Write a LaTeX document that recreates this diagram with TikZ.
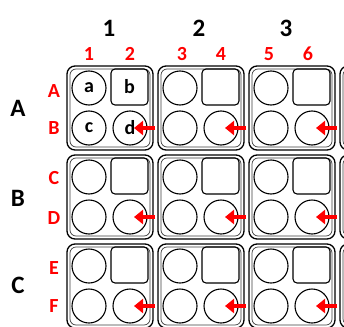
\documentclass[tikz,border=0pt]{standalone}
\usepackage{fontspec}
\setmainfont{Carlito}
\usetikzlibrary{arrows.meta}
\definecolor{labred}{RGB}{255,0,0}
\begin{document}
\begin{tikzpicture}[x=1pt,y=-1pt,
  blk/.style={draw, line width=1.3pt, rounded corners=8pt},
  blkin/.style={draw=black!75, line width=0.7pt, rounded corners=6pt},
  well/.style={draw, circle, line width=1.1pt, minimum size=34pt, inner sep=0pt, font=\bfseries\fontsize{20}{20}\selectfont},
  sqwell/.style={draw, line width=1.1pt, rounded corners=4pt, minimum width=37pt, minimum height=36pt, inner sep=0pt, font=\bfseries\fontsize{20}{20}\selectfont},
  biglab/.style={font=\bfseries\fontsize{25}{25}\selectfont, inner sep=0pt},
  redlab/.style={text=labred, font=\bfseries\fontsize{20}{20}\selectfont, inner sep=0pt},
  ptr/.style={draw=labred, line width=4pt, -{Triangle[length=9pt,width=14pt]}}
]
\useasboundingbox (0,0) rectangle (344,326);
\clip (0,0) rectangle (344,326);
\fill[white] (0,0) rectangle (344,326);
% plates
\foreach \c in {0,1,2,3}{
  \foreach \r in {0,1,2}{
    \pgfmathsetmacro{\bx}{67+91*\c}
    \pgfmathsetmacro{\by}{66+89*\r}
    \draw[blk] (\bx,\by) rectangle ++(86,84);
    \draw[blkin] (\bx+3,\by+3) rectangle ++(80,78);
    \node[well] (tl-\r-\c) at (\bx+22,\by+22) {};
    \node[sqwell] (tr-\r-\c) at (\bx+62.5,\by+21) {};
    \node[well] (bl-\r-\c) at (\bx+22,\by+62) {};
    \node[well] (br-\r-\c) at (\bx+63,\by+62) {};
  }
}
% well letters
\node[font=\bfseries\fontsize{20}{20}\selectfont] (ta) at (tl-0-0) {a};
\node[font=\bfseries\fontsize{20}{20}\selectfont] (tb) at (tr-0-0) {b};
\node[font=\bfseries\fontsize{20}{20}\selectfont] (tc) at (bl-0-0) {c};
\node[font=\bfseries\fontsize{20}{20}\selectfont] (td) at (br-0-0) {d};
% arrows
\foreach \c in {0,1,2}{
  \foreach \r in {0,1,2}{
    \pgfmathsetmacro{\bx}{67+91*\c}
    \pgfmathsetmacro{\by}{66+89*\r}
    \coordinate (tail-\r-\c) at (\bx+88,\by+62);
    \coordinate (tip-\r-\c) at (\bx+67,\by+62);
    \draw[ptr] (tail-\r-\c) -- (tip-\r-\c);
  }
}
% column labels
\node[biglab] (c1) at (109,28) {1};
\node[biglab] (c2) at (199,28) {2};
\node[biglab] (c3) at (286,28) {3};
\node[redlab] (s1) at (89,54) {1};
\node[redlab] (s2) at (130,54) {2};
\node[redlab] (s3) at (182,54) {3};
\node[redlab] (s4) at (221,54) {4};
\node[redlab] (s5) at (269,54) {5};
\node[redlab] (s6) at (308,54) {6};
% row labels
\node[biglab] (rA) at (18,108) {A};
\node[biglab] (rB) at (18,198) {B};
\node[biglab] (rC) at (18,285) {C};
\node[redlab] (lA) at (54,91) {A};
\node[redlab] (lB) at (54,128) {B};
\node[redlab] (lC) at (54,178) {C};
\node[redlab] (lD) at (54,218) {D};
\node[redlab] (lE) at (54,268) {E};
\node[redlab] (lF) at (54,306) {F};
\end{tikzpicture}
\end{document}
